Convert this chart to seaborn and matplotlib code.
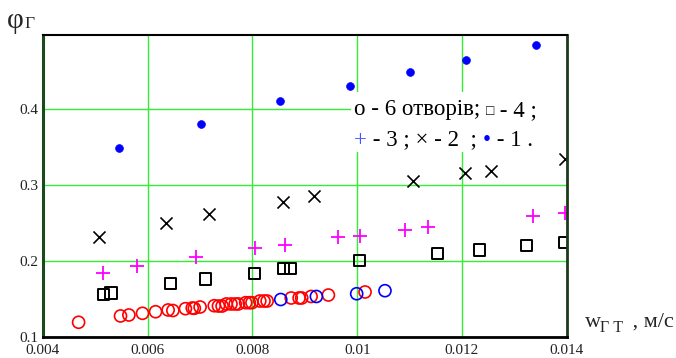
import matplotlib
matplotlib.use("Agg")
import matplotlib.pyplot as plt
import seaborn as sns
from matplotlib.patches import Rectangle

# 6 openings (red circles), plus a few blue open circles
x6 = [0.00468, 0.00548, 0.00564, 0.00590, 0.00615, 0.00639, 0.00648, 0.00672,
      0.00685, 0.00689, 0.00700, 0.00727, 0.00735, 0.00742, 0.00750, 0.00759,
      0.00767, 0.00773, 0.00787, 0.00794, 0.00799, 0.00814, 0.00822, 0.00828,
      0.00874, 0.00889, 0.00894, 0.00912, 0.00945, 0.01015]
y6 = [0.1194, 0.1277, 0.1290, 0.1312, 0.1333, 0.1356, 0.1349, 0.1373,
      0.1382, 0.1378, 0.1395, 0.1412, 0.1408, 0.1408, 0.1435, 0.1435,
      0.1435, 0.1435, 0.1452, 0.1452, 0.1452, 0.1474, 0.1474, 0.1474,
      0.1514, 0.1514, 0.1514, 0.1534, 0.1553, 0.1593]
x6b = [0.00854, 0.00922, 0.00999, 0.01053]
y6b = [0.1494, 0.1534, 0.1570, 0.1610]

# 4 openings (squares)
x4 = [0.00515, 0.00530, 0.00644, 0.00710, 0.00804, 0.00860, 0.00873,
      0.01004, 0.01153, 0.01233, 0.01324, 0.01396]
y4 = [0.1562, 0.1580, 0.1700, 0.1764, 0.1839, 0.1905, 0.1905,
      0.2005, 0.2102, 0.2146, 0.2203, 0.2242]

# 3 openings (plus)
x3 = [0.00514, 0.00580, 0.00693, 0.00805, 0.00863, 0.00964, 0.01006,
      0.01091, 0.01135, 0.01336, 0.01396]
y3 = [0.1840, 0.1935, 0.2054, 0.2177, 0.2212, 0.2318, 0.2335,
      0.2414, 0.2450, 0.2590, 0.2638]

# 2 openings (x)
x2 = [0.00507, 0.00634, 0.00717, 0.00858, 0.00918, 0.01106, 0.01205,
      0.01255, 0.01397]
y2 = [0.2318, 0.2498, 0.2617, 0.2779, 0.2858, 0.3055, 0.3157,
      0.3190, 0.3350]

# 1 opening (dots)
x1 = [0.00546, 0.00701, 0.00853, 0.00986, 0.01100, 0.01207, 0.01342]
y1 = [0.3490, 0.3806, 0.4110, 0.4310, 0.4490, 0.4646, 0.4847]

xticks = [0.004, 0.006, 0.008, 0.01, 0.012, 0.014]
xtick_labels = ["0.004", "0.006", "0.008", "0.01", "0.012", "0.014"]
yticks = [0.1, 0.2, 0.3, 0.4]
ytick_labels = ["0.1", "0.2", "0.3", "0.4"]

sns.set_style("white")
plt.rcParams["font.family"] = ["Liberation Serif", "DejaVu Sans"]

fig = plt.figure(figsize=(6.76, 3.58), dpi=100)
ax = fig.add_axes([0.0636, 0.0587, 0.7747, 0.8435])

sns.scatterplot(x=x6, y=y6, ax=ax, marker="o", s=75, facecolor="none",
                edgecolor="#ff0000", linewidth=1.2, zorder=3)
sns.scatterplot(x=x6b, y=y6b, ax=ax, marker="o", s=75, facecolor="none",
                edgecolor="#0000ff", linewidth=1.2, zorder=3)
sns.scatterplot(x=x4, y=y4, ax=ax, marker="s", s=65, facecolor="none",
                edgecolor="black", linewidth=1.4, zorder=3)
sns.scatterplot(x=x3, y=y3, ax=ax, marker="+", s=110, color="#ff00ff",
                linewidth=1.3, zorder=3)
sns.scatterplot(x=x2, y=y2, ax=ax, marker="x", s=75, color="black",
                linewidth=1.2, zorder=3)
sns.scatterplot(x=x1, y=y1, ax=ax, marker="o", s=32, color="#0000ff",
                edgecolor="#0000ff", zorder=3)

ax.set_xlim(0.004, 0.014)
ax.set_ylim(0.1, 0.498)
ax.set_xticks(xticks)
ax.set_xticklabels(xtick_labels)
ax.set_yticks(yticks)
ax.set_yticklabels(ytick_labels)
ax.tick_params(length=0, labelsize=11, colors="#222222")
ax.tick_params(axis="x", pad=5)
ax.tick_params(axis="y", pad=3)
ax.set_xlabel("")
ax.set_ylabel("")
ax.grid(True, color="#33ee33", linewidth=1.0, zorder=0)
ax.set_axisbelow(True)

ax.spines["left"].set_color("#1d4a1d")
ax.spines["left"].set_linewidth(2.2)
ax.spines["bottom"].set_color("black")
ax.spines["bottom"].set_linewidth(2.0)
ax.spines["top"].set_color("black")
ax.spines["top"].set_linewidth(1.5)
ax.spines["right"].set_color("#1d3a1d")
ax.spines["right"].set_linewidth(2.0)
for s in ax.spines.values():
    s.set_visible(True)
    s.set_zorder(4)

# white box behind the key text
ax.add_patch(Rectangle((0.589, 0.6126), 0.411, 0.1984, transform=ax.transAxes,
                       facecolor="white", edgecolor="none", zorder=2))

fs = 16.5
p = ax.text(0.594, 0.752, "o - 6 отворів; ", transform=ax.transAxes,
            fontsize=fs, va="center", ha="left", color="black", zorder=5)
p = ax.annotate("\u25a1", xy=(1, 0.12), xycoords=p, va="bottom",
                fontsize=10, color="black", zorder=5)
p = ax.annotate(" - 4 ;", xy=(1, 0), xycoords=p, va="bottom",
                xytext=(0, -2), textcoords="offset points",
                fontsize=fs, color="black", zorder=5)

p = ax.text(0.594, 0.652, "+", transform=ax.transAxes, fontsize=fs,
            va="center", ha="left", color="#4455ff", zorder=5)
p = ax.annotate(" - 3 ; \u00d7 - 2  ; ", xy=(1, 0), xycoords=p, va="bottom",
                fontsize=fs, color="black", zorder=5)
p = ax.annotate("\u2022", xy=(1, 0), xycoords=p, va="bottom",
                fontsize=fs, color="#0000ff", zorder=5)
p = ax.annotate(" - 1 .", xy=(1, 0), xycoords=p, va="bottom",
                fontsize=fs, color="black", zorder=5)

# axis titles
fig.text(7 / 676, 1 - 28 / 358, "\u03c6", fontsize=21, va="baseline", ha="left")
fig.text(24 / 676, 1 - 28 / 358, "\u0393", fontsize=12.5, va="baseline", ha="left")

fig.text(585 / 676, 1 - 327 / 358, "w", fontsize=16, va="baseline", ha="left")
fig.text(600 / 676, 1 - 332 / 358, "\u0393 Т", fontsize=11.5, va="baseline", ha="left")
fig.text(627 / 676, 1 - 327 / 358, " , м/с", fontsize=16, va="baseline", ha="left")

fig.savefig("out.png", dpi=100)
